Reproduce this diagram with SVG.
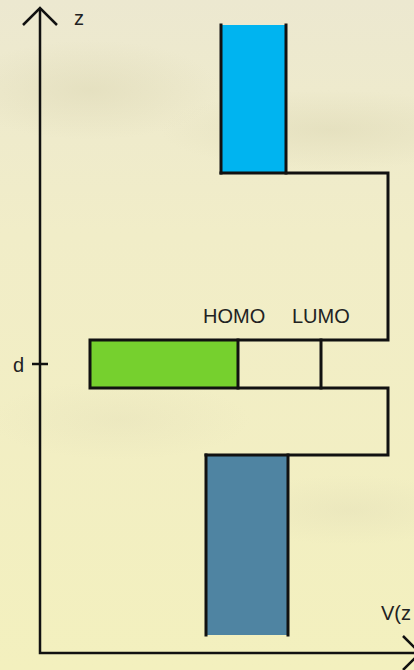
<svg xmlns="http://www.w3.org/2000/svg" width="414" height="670" viewBox="0 0 414 670">
<defs>
<linearGradient id="bg" x1="0" y1="0" x2="0" y2="1">
<stop offset="0" stop-color="#ECE8D0"/>
<stop offset="0.35" stop-color="#F1EDC8"/>
<stop offset="1" stop-color="#F3F0BE"/>
</linearGradient>
<radialGradient id="spot" cx="0.5" cy="0.5" r="0.5">
<stop offset="0" stop-color="#DCD7B4" stop-opacity="0.5"/>
<stop offset="1" stop-color="#DCD7B4" stop-opacity="0"/>
</radialGradient>
<style>
.ln{fill:none;stroke:#111;stroke-width:3;stroke-linecap:square;stroke-linejoin:miter}
.ax{fill:none;stroke:#111;stroke-width:2.5}
.t{font-family:"Liberation Sans",Arial,sans-serif;font-size:20px;fill:#222}
</style>
</defs>
<rect width="414" height="670" fill="url(#bg)"/>
<ellipse cx="330" cy="130" rx="170" ry="40" fill="url(#spot)"/>
<ellipse cx="90" cy="90" rx="130" ry="50" fill="url(#spot)"/>
<ellipse cx="350" cy="510" rx="120" ry="35" fill="url(#spot)" opacity="0.6"/>
<ellipse cx="120" cy="420" rx="130" ry="40" fill="url(#spot)" opacity="0.5"/>

<g id="axes">
<path class="ax" d="M40,8 V653 H420"/>
<path class="ax" d="M23,25 L40,8 L57,25"/>
<path class="ax" d="M403,636 L420,653 L403,670"/>
<path class="ax" d="M32,364 H48"/>
</g>
<g id="labels">
<text class="t" x="74" y="25">z</text>
<text class="t" x="13" y="372">d</text>
<text class="t" x="381" y="620">V(z</text>
</g>

<g id="top-band">
<rect x="221" y="25" width="65" height="148" fill="#00B4F0"/>
<path class="ln" d="M221,25 V173 M286,25 V173"/>
</g>
<g id="homo">
<rect x="90" y="340" width="148" height="48" fill="#76D02E"/>
<text class="t" x="203" y="323">HOMO</text>
</g>
<g id="lumo">
<path class="ln" d="M321,340 V388"/>
<text class="t" x="292" y="323">LUMO</text>
</g>
<g id="bottom-band">
<rect x="206" y="455" width="82" height="180" fill="#4F84A2"/>
<path class="ln" d="M206,455 V635 M288,455 V635"/>
</g>
<g id="connectors">
<path class="ln" d="M221,173 H388 V340 H90 V388 H388 V455 H206"/>
<path class="ln" d="M238,340 V388"/>
</g>
</svg>
